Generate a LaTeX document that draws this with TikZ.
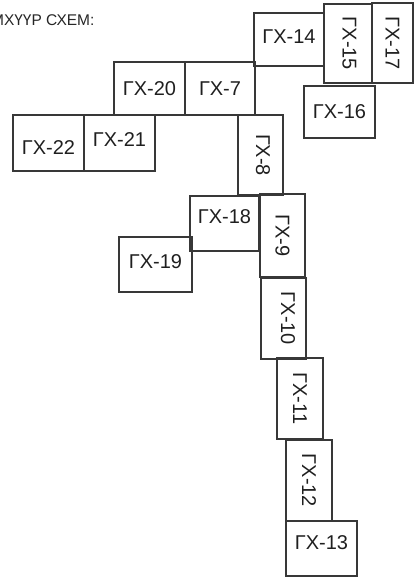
\documentclass[tikz,border=0pt]{standalone}
\usepackage{fontspec}
\setmainfont{Liberation Sans}
\usepackage{tikz}

\begin{document}
\begin{tikzpicture}[x=1pt, y=-1pt,
  box/.style={draw=black!78, line width=2.8pt, inner sep=0pt, font=\fontsize{20}{24}\selectfont, text=black!88},
  hbox/.style={box},
  vbox/.style={box, rotate=-90}
]
\useasboundingbox (0,0) rectangle (414,578);
\node[anchor=base east, font=\fontsize{15.5}{18}\selectfont, text=black!85] (title) at (98,26) {МХҮҮР СХЕМ:};
% upper right group
\node[hbox, minimum width=70pt, minimum height=53pt, text depth=6pt] (g14) at (289,39.5)  {ГХ-14};
\node[vbox, minimum width=79pt, minimum height=48pt, text depth=3pt] (g15) at (348,43.5)  {ГХ-15\hspace{3pt}};
\node[vbox, minimum width=80pt, minimum height=41pt] (g17) at (392.5,43)  {ГХ-17\hspace{4pt}};
\node[hbox, minimum width=71pt, minimum height=52pt] (g16) at (339.5,112) {ГХ-16};
% upper left group
\node[hbox, minimum width=71pt, minimum height=53pt] (g20) at (149.5,88.5) {ГХ-20};
\node[hbox, minimum width=70pt, minimum height=53pt] (g7)  at (220,88.5)   {ГХ-7\hspace{8pt}};
\node[hbox, minimum width=71pt, minimum height=56pt, text height=23pt] (g22) at (48.5,143) {ГХ-22};
\node[hbox, minimum width=71pt, minimum height=56pt, text depth=6pt] (g21) at (119.5,143) {ГХ-21\hspace{5pt}};
% main column
\node[vbox, minimum width=80pt, minimum height=45pt, text depth=5pt] (g8)  at (260.5,155)   {ГХ-8\hspace{8pt}};
\node[hbox, minimum width=69pt, minimum height=55pt, text depth=14pt] (g18) at (224.5,223.5) {ГХ-18};
\node[hbox, minimum width=73pt, minimum height=55pt, text depth=5pt] (g19) at (155.5,264.5) {ГХ-19\hspace{8pt}};
\node[vbox, minimum width=83pt, minimum height=45pt] (g9)  at (282.5,235.5) {ГХ-9\hspace{3pt}};
\node[vbox, minimum width=81pt, minimum height=45pt, text depth=9pt] (g10) at (283.5,318.5) {ГХ-10\hspace{15pt}};
\node[vbox, minimum width=81pt, minimum height=46pt] (g11) at (300,398.5)   {ГХ-11};
\node[vbox, minimum width=81pt, minimum height=46pt] (g12) at (309,480.5)   {ГХ-12\hspace{7pt}};
\node[hbox, minimum width=71pt, minimum height=55pt, text depth=12pt] (g13) at (321.5,548.5) {ГХ-13};
\end{tikzpicture}
\end{document}
